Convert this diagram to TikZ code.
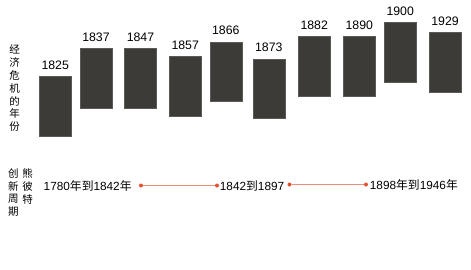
\documentclass[tikz,border=0pt]{standalone}
\usepackage{fontspec}
\setmainfont{Liberation Sans}
\newfontfamily\cjk{Noto Sans CJK SC}
\usepackage{xcolor}
\usepackage{tikz}
\usetikzlibrary{positioning}

\definecolor{barfill}{HTML}{3C3B37}
\definecolor{bardraw}{HTML}{5A5955}
\definecolor{dotred}{HTML}{E2502C}
\definecolor{linkred}{HTML}{EC8F75}

\begin{document}
\begin{tikzpicture}[
  x=1pt, y=-1pt,
  node distance=6.5pt,
  bar/.style={draw=bardraw, line width=0.5pt, fill=barfill, minimum width=32pt, minimum height=59.5pt, inner sep=0pt},
  yr/.style={inner sep=0pt, font=\fontsize{12.3}{14}\selectfont},
  vtext/.style={align=center, inner sep=0pt, font=\cjk\fontsize{10.5}{12.8}\selectfont},
  span/.style={inner sep=0pt, font=\fontsize{11.8}{14}\selectfont},
  dot/.style={circle, fill=dotred, inner sep=0pt, minimum size=4pt},
  link/.style={draw=linkred, line width=0.8pt}
]
\useasboundingbox (0,0) rectangle (471,269);

% crisis years
\node[bar] (b1825) at (55.2,106.3) {};
\node[bar] (b1837) at (96.0,78.3) {};
\node[bar] (b1847) at (140.5,78.3) {};
\node[bar] (b1857) at (185.2,86.2) {};
\node[bar] (b1866) at (225.8,71.8) {};
\node[bar] (b1873) at (268.8,88.5) {};
\node[bar] (b1882) at (314.2,66.0) {};
\node[bar] (b1890) at (359.3,66.0) {};
\node[bar] (b1900) at (400.2,52.2) {};
\node[bar] (b1929) at (445.0,62.3) {};
\node[yr, above=of b1825] (y1825) {1825};
\node[yr, above=of b1837] (y1837) {1837};
\node[yr, above=of b1847] (y1847) {1847};
\node[yr, above=of b1857] (y1857) {1857};
\node[yr, above=of b1866] (y1866) {1866};
\node[yr, above=of b1873] (y1873) {1873};
\node[yr, above=of b1882] (y1882) {1882};
\node[yr, above=of b1890] (y1890) {1890};
\node[yr, above=of b1900] (y1900) {1900};
\node[yr, above=of b1929] (y1929) {1929};
\node[vtext] (crisis) at (14.5,88.4) {经\\济\\危\\机\\的\\年\\份};

% innovation cycles
\node[vtext] (cycle) at (13.5,192.5) {创\\新\\周\\期};
\node[vtext] (schumpeter) at (27.7,186.2) {熊\\彼\\特};
\node[dot] (d1) at (141,185.5) {};
\node[dot] (d2) at (217,185.5) {};
\node[dot] (d3) at (289.5,184.5) {};
\node[dot] (d4) at (366,184.5) {};
\node[span, left=7pt of d1] (p1) {1780{\cjk 年}{\cjk 到}1842{\cjk 年}};
\node[span, right=0.5pt of d2] (p2) {1842{\cjk 到}1897};
\node[span, right=1.5pt of d4] (p3) {1898{\cjk 年}{\cjk 到}1946{\cjk 年}};
\draw[link] (d1) -- (d2);
\draw[link] (d3) -- (d4);
\end{tikzpicture}
\end{document}
